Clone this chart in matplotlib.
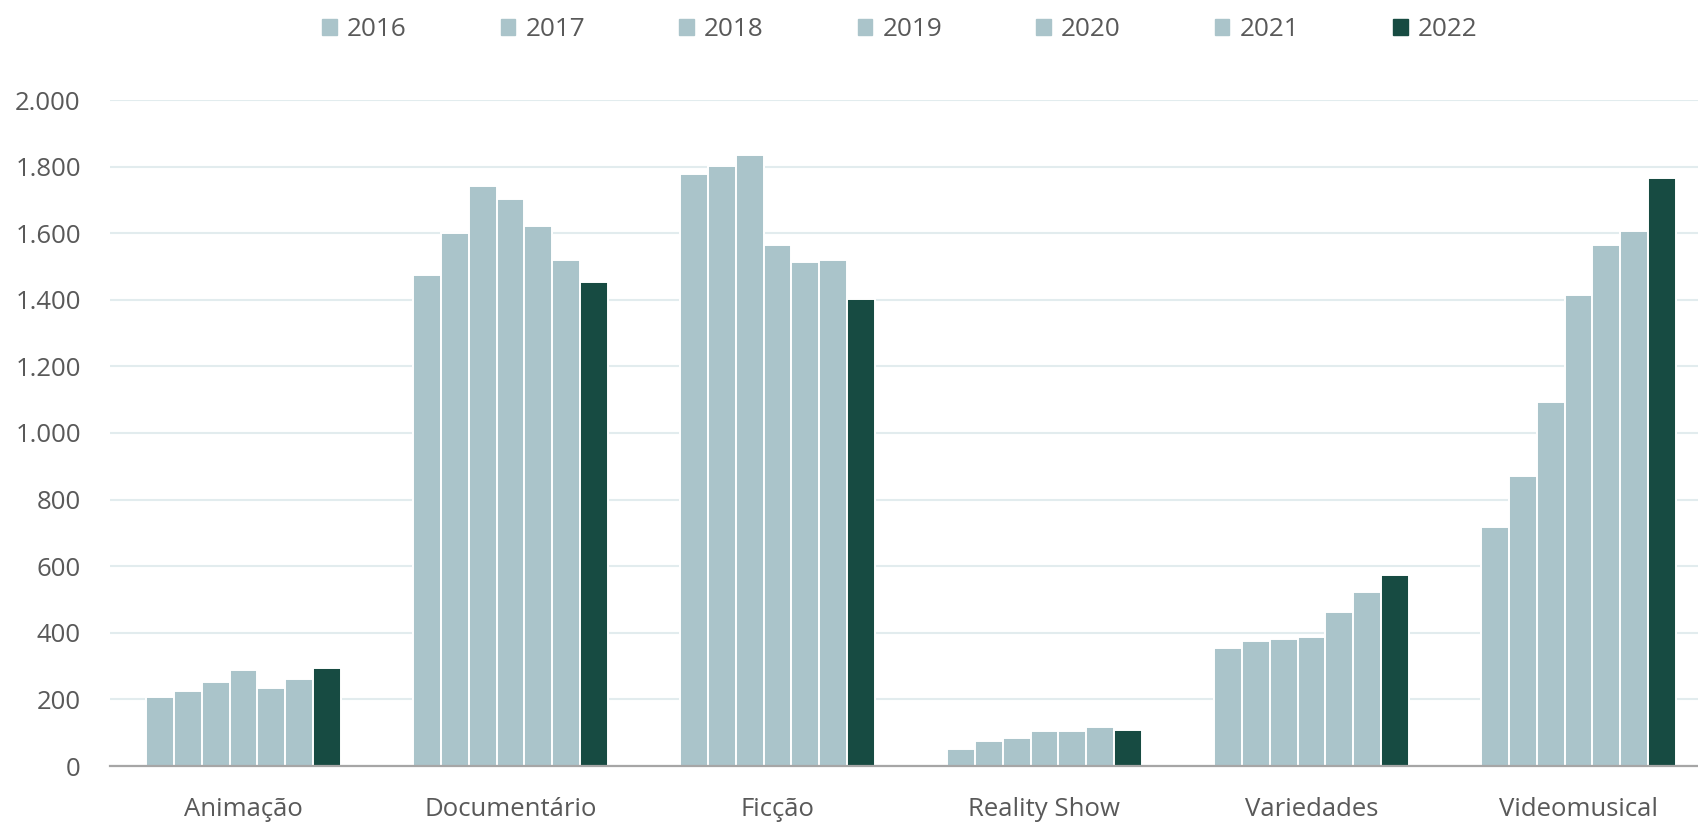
import matplotlib.pyplot as plt
import matplotlib.patches as mpatches
from matplotlib.ticker import FuncFormatter, MultipleLocator
import numpy as np

plt.rcParams['font.family'] = ['Open Sans', 'DejaVu Sans']

categories = ['Animação', 'Documentário', 'Ficção', 'Reality Show', 'Variedades', 'Videomusical']
years = ['2016', '2017', '2018', '2019', '2020', '2021', '2022']

# one list per year, in category order
v2016 = [208, 1474, 1779, 51, 354, 717]
v2017 = [224, 1600, 1801, 74, 374, 870]
v2018 = [252, 1743, 1834, 84, 382, 1094]
v2019 = [287, 1703, 1564, 105, 387, 1413]
v2020 = [235, 1623, 1514, 104, 461, 1564]
v2021 = [260, 1521, 1521, 116, 524, 1608]
v2022 = [294, 1454, 1403, 107, 573, 1766]
series = [v2016, v2017, v2018, v2019, v2020, v2021, v2022]

light = '#AAC4CA'
dark = '#174B42'
colors = [light] * 6 + [dark]
txt = '#595959'

fig = plt.figure(figsize=(16.99, 8.24), dpi=100)
ax = fig.add_axes([110 / 1699, 1 - 766 / 824, 1 - 110 / 1699, (766 - 100) / 824])

x = np.arange(len(categories))
w = 0.104
for i, (vals, c) in enumerate(zip(series, colors)):
    ax.bar(x + (i - 3) * w, vals, width=w, color=c, edgecolor='white',
           linewidth=1.4, label=years[i], zorder=3)

ax.set_xlim(-0.5, -0.5 + 1589 / 267)
ax.set_ylim(0, 2000)
ax.yaxis.set_major_locator(MultipleLocator(200))
ax.yaxis.set_major_formatter(FuncFormatter(lambda v, p: f'{int(v):,}'.replace(',', '.')))
ax.set_xticks(x)
ax.set_xticklabels(categories)

ax.grid(axis='y', color='#E2ECEE', linewidth=1.5, zorder=0)
for s in ['top', 'right', 'left']:
    ax.spines[s].set_visible(False)
ax.spines['bottom'].set_color('#A6A6A6')
ax.spines['bottom'].set_linewidth(1.6)
ax.spines['bottom'].set_zorder(4)
ax.tick_params(axis='both', length=0, labelsize=18.5, labelcolor=txt)
ax.tick_params(axis='y', pad=21)
ax.tick_params(axis='x', pad=22.5)

handles = [mpatches.Rectangle((0, 0), 1, 1, color=c) for c in colors]
fig.legend(handles, years, loc='center', bbox_to_anchor=(900 / 1699, 1 - 30 / 824),
           ncol=7, frameon=False, fontsize=18.8, labelcolor=txt,
           handlelength=0.55, handleheight=0.55, handletextpad=0.4,
           columnspacing=3.6)

fig.savefig('out.png', dpi=100)
